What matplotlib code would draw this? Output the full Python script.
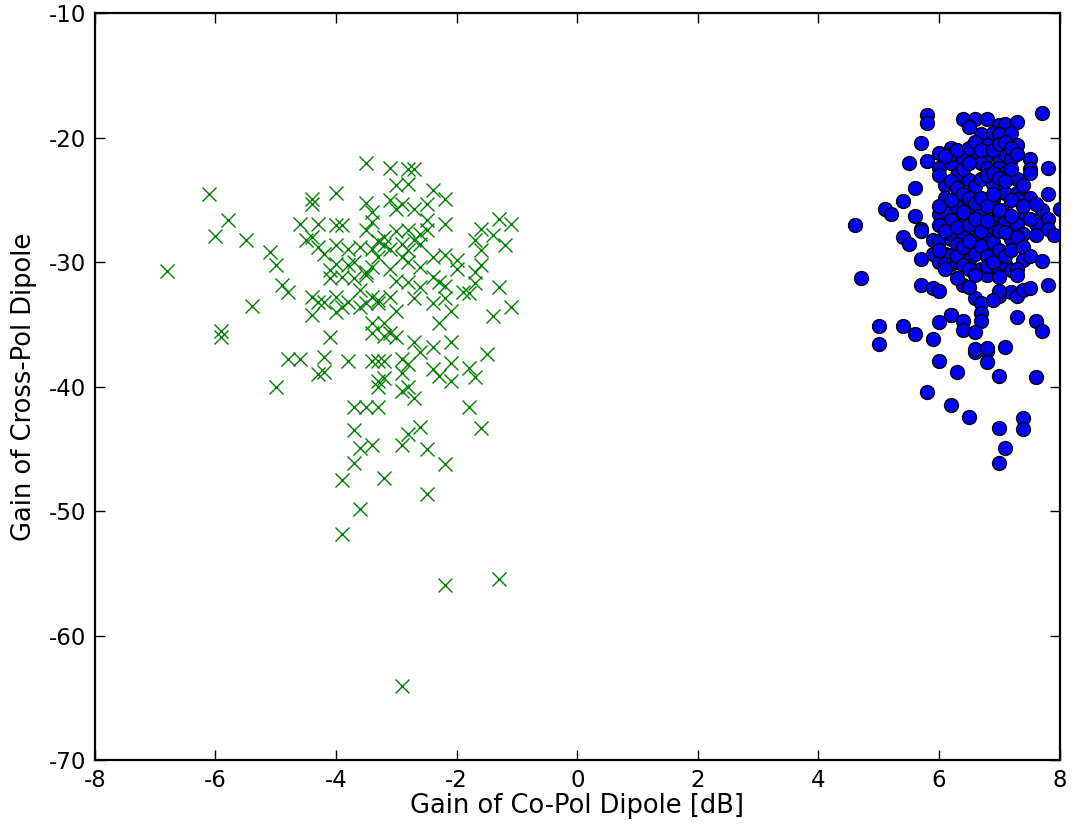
"""Co-pol vs cross-pol dipole gain scatter."""

import matplotlib
matplotlib.use("Agg")
import matplotlib.pyplot as plt

plt.rcParams["axes.unicode_minus"] = False
plt.rcParams["font.family"] = "DejaVu Sans"

# green crosses: (co-pol gain [dB], cross-pol gain [dB])
cross_pts = [
    (-6.8, -30.7), (-6.1, -24.5), (-6.0, -27.9), (-5.8, -26.6), (-5.9, -35.5),
    (-5.9, -36.0), (-5.5, -28.2), (-5.4, -33.5), (-5.1, -29.2), (-5.0, -30.2),
    (-5.0, -40.0), (-4.9, -31.8), (-4.8, -32.4), (-4.8, -37.8), (-4.6, -37.8),
    (-4.4, -24.9), (-4.4, -25.3), (-4.0, -24.4), (-4.6, -26.9), (-4.3, -26.9),
    (-4.5, -28.2), (-4.4, -28.0), (-4.3, -28.8), (-4.2, -29.3), (-4.4, -32.8),
    (-4.4, -34.2), (-4.2, -33.2), (-4.1, -30.6), (-4.1, -36.0), (-4.2, -37.6),
    (-4.3, -39.0), (-4.2, -38.8), (-3.8, -37.9), (-3.4, -37.9), (-3.3, -37.9),
    (-3.2, -37.9), (-2.9, -37.8), (-2.8, -38.2), (-2.9, -38.9), (-2.4, -38.6),
    (-2.3, -39.1), (-2.1, -38.1), (-2.1, -39.5), (-1.8, -38.5), (-1.7, -39.2),
    (-1.5, -37.4), (-2.4, -36.8), (-2.1, -36.4), (-2.7, -36.4), (-2.6, -37.2),
    (-3.3, -39.5), (-3.2, -39.3), (-3.3, -40.0), (-2.9, -40.3), (-2.8, -40.0),
    (-2.7, -40.9), (-3.7, -41.6), (-3.5, -41.6), (-3.3, -41.6), (-1.8, -41.6),
    (-3.7, -43.5), (-1.6, -43.3), (-2.8, -43.8), (-2.6, -43.2), (-3.6, -44.9),
    (-3.4, -44.7), (-2.9, -44.7), (-2.5, -45.0), (-3.7, -46.1), (-2.2, -46.2),
    (-3.9, -47.5), (-3.2, -47.3), (-2.5, -48.6), (-3.9, -51.8), (-3.6, -49.8),
    (-2.2, -55.9), (-1.3, -55.4), (-2.9, -64.0),
    (-3.4, -35.7), (-3.2, -35.9), (-3.1, -35.7), (-3.0, -36.0), (-2.3, -34.9),
    (-3.4, -34.9),
    (-3.5, -22.0), (-3.1, -22.4), (-2.8, -22.5), (-2.7, -22.5), (-3.0, -23.8),
    (-2.8, -23.7), (-2.4, -24.2), (-2.2, -24.9), (-3.5, -25.2), (-3.1, -25.0),
    (-2.9, -25.3), (-3.0, -25.7), (-2.5, -25.3), (-2.7, -25.7), (-3.4, -26.0),
    (-3.9, -27.0), (-4.0, -27.0), (-3.4, -26.8), (-3.5, -27.4), (-2.5, -26.6),
    (-2.2, -26.9), (-1.3, -26.5), (-1.1, -26.9), (-1.6, -27.3), (-1.4, -27.8),
    (-1.2, -28.6), (-1.7, -28.2), (-3.2, -28.0), (-2.8, -27.4), (-2.6, -27.7),
    (-3.2, -28.6), (-3.1, -28.9), (-2.8, -29.0), (-2.6, -28.5), (-2.5, -27.4),
    (-4.0, -28.6), (-3.8, -28.9), (-3.6, -28.8), (-3.4, -28.9), (-3.3, -29.6),
    (-2.9, -29.6), (-2.8, -30.0), (-2.4, -29.6), (-2.2, -29.4), (-2.0, -29.8),
    (-1.6, -29.0), (-1.6, -30.2), (-4.0, -30.1), (-3.8, -30.2), (-3.5, -30.8),
    (-3.4, -30.4), (-2.6, -30.4), (-2.0, -30.5), (-1.7, -30.8), (-4.1, -31.3),
    (-3.9, -31.2), (-3.7, -31.3), (-3.5, -31.0), (-2.8, -31.6), (-2.6, -32.0),
    (-2.4, -31.2), (-2.3, -31.6), (-2.2, -31.9), (-1.9, -32.4), (-1.8, -32.5),
    (-1.7, -31.7), (-1.3, -32.0), (-4.0, -32.8), (-3.9, -33.6), (-3.6, -33.6),
    (-3.4, -32.8), (-3.3, -33.3), (-3.1, -32.8), (-3.0, -33.9), (-2.7, -32.9),
    (-2.4, -33.3), (-2.2, -32.9), (-2.1, -33.9), (-1.4, -34.3), (-1.1, -33.6),
    (-3.2, -34.9), (-3.3, -33.0), (-3.5, -33.3), (-3.6, -32.2), (-3.0, -31.5),
    (-3.1, -30.5), (-2.9, -28.5), (-3.3, -28.3), (-3.0, -27.5), (-2.7, -28.2),
    (-3.7, -30.0), (-3.8, -33.2), (-4.3, -33.2), (-4.0, -34.0),
]

# blue circles
circle_pts = [
    (5.8, -18.2), (5.8, -18.8), (5.7, -20.4), (6.0, -21.2), (6.2, -20.8),
    (5.8, -21.9), (5.5, -22.0), (6.0, -22.4), (6.2, -22.0), (5.6, -24.0),
    (6.1, -23.8), (5.4, -25.1), (6.1, -24.8), (5.1, -25.7), (5.2, -26.1),
    (5.6, -26.3), (6.0, -26.1), (6.1, -25.8), (4.6, -27.0), (5.7, -27.3),
    (4.7, -31.3), (5.0, -35.1), (5.0, -36.6), (5.4, -35.1), (5.6, -35.8),
    (5.4, -28.0), (5.5, -28.5), (5.7, -27.5), (5.9, -28.2), (6.0, -28.3),
    (6.2, -28.1), (5.9, -29.3), (5.7, -29.7), (6.0, -30.0), (6.1, -29.3),
    (6.2, -30.1), (5.7, -31.8), (5.9, -32.1), (6.0, -32.3), (6.2, -34.2),
    (6.0, -34.8), (5.9, -36.2),
    (6.0, -37.9), (6.3, -38.8), (6.6, -37.2), (6.8, -37.1), (6.8, -38.0),
    (7.1, -36.8), (7.0, -39.1), (7.6, -39.2), (5.8, -40.4), (6.2, -41.5),
    (6.5, -42.4), (7.0, -43.3), (7.4, -42.5), (7.4, -43.4), (7.1, -44.9),
    (7.0, -46.1),
    (7.7, -18.0), (6.4, -18.5), (6.6, -18.5), (6.8, -18.5), (6.5, -19.1),
    (7.0, -19.0), (7.1, -18.9), (7.3, -18.7), (6.7, -19.7), (6.9, -19.6),
    (7.0, -19.7), (7.2, -19.6), (7.3, -20.6), (6.8, -20.6), (6.2, -21.3),
    (6.4, -21.2), (6.6, -21.7), (6.8, -21.4), (7.0, -21.7), (7.1, -21.3),
    (7.2, -21.7), (7.5, -21.7), (7.8, -22.4), (6.4, -21.7), (6.7, -22.0),
    (6.8, -22.4), (7.0, -22.4), (7.5, -22.5), (7.5, -22.8), (7.1, -22.8),
    (7.3, -23.3), (6.3, -23.0), (6.5, -23.4), (6.6, -23.9), (6.7, -23.3),
    (6.9, -23.7), (7.1, -24.4), (7.3, -24.4), (7.5, -24.8), (7.8, -24.5),
    (6.3, -25.6), (6.5, -25.7), (6.7, -26.0), (6.9, -25.0), (6.9, -25.6),
    (7.1, -25.8), (7.3, -24.9), (7.4, -26.4), (7.7, -25.8), (7.8, -26.5),
    (8.0, -25.7), (6.2, -26.6), (6.4, -26.9), (6.7, -26.9), (6.9, -26.8),
    (7.1, -26.8), (7.3, -26.9), (7.6, -26.9),
    (6.2, -27.7), (6.4, -27.7), (6.6, -28.1), (6.8, -27.8), (6.9, -27.2),
    (7.2, -28.1), (7.4, -27.7), (7.6, -27.8), (7.8, -27.3), (7.9, -27.8),
    (6.2, -29.4), (6.5, -29.8), (6.7, -30.5), (6.9, -29.2), (6.8, -31.0),
    (7.0, -30.9), (7.1, -30.1), (7.2, -30.6), (7.4, -29.8), (7.7, -29.9),
    (6.1, -30.1), (6.3, -30.0), (6.4, -31.8), (6.6, -32.9), (6.7, -33.3),
    (6.7, -34.1), (6.7, -34.7), (7.0, -32.7), (7.2, -32.4), (7.3, -32.7),
    (7.4, -32.2), (7.5, -32.1), (7.8, -31.8), (6.2, -34.2), (6.4, -34.7),
    (6.4, -35.4), (6.6, -35.6), (7.3, -34.4), (7.6, -34.7), (7.7, -35.5),
    (6.6, -37.0), (6.8, -36.9),
    (6.0, -23.0), (6.0, -25.5), (6.0, -27.0), (6.0, -29.0), (6.1, -21.5),
    (6.1, -27.5), (6.1, -30.5), (6.2, -23.5), (6.2, -25.0), (6.3, -21.0),
    (6.3, -24.0), (6.3, -27.2), (6.3, -28.5), (6.3, -29.5), (6.4, -22.5),
    (6.4, -24.5), (6.4, -26.0), (6.4, -28.8), (6.4, -30.2), (6.5, -20.8),
    (6.5, -22.0), (6.5, -24.8), (6.5, -27.0), (6.5, -28.3), (6.5, -30.5),
    (6.6, -20.3), (6.6, -25.2), (6.6, -26.5), (6.6, -29.3), (6.6, -31.0),
    (6.7, -21.0), (6.7, -24.8), (6.7, -27.5), (6.7, -28.7), (6.8, -23.0),
    (6.8, -25.5), (6.8, -26.7), (6.8, -29.5), (6.8, -30.3), (6.9, -21.0),
    (6.9, -22.8), (6.9, -24.5), (6.9, -28.4), (6.9, -30.0), (7.0, -20.5),
    (7.0, -23.2), (7.0, -25.8), (7.0, -27.5), (7.0, -29.0), (7.0, -31.2),
    (7.1, -20.3), (7.1, -23.5), (7.1, -27.6), (7.1, -29.5), (7.2, -20.8),
    (7.2, -22.5), (7.2, -25.0), (7.2, -26.3), (7.2, -29.0), (7.3, -21.3),
    (7.3, -28.0), (7.3, -30.5), (7.4, -23.8), (7.4, -25.5), (7.4, -28.8),
    (7.5, -26.5), (7.5, -29.5), (7.6, -25.3), (7.3, -31.0), (7.0, -32.3),
    (6.9, -33.0), (6.5, -32.0), (6.3, -31.3),
]

x_ticks = [-8, -6, -4, -2, 0, 2, 4, 6, 8]
y_ticks = [-70, -60, -50, -40, -30, -20, -10]


fig = plt.figure(figsize=(10.78, 8.30), dpi=100)
ax = fig.add_axes([0.088, 0.084, 0.895, 0.900])

cx = [p[0] for p in cross_pts]
cy = [p[1] for p in cross_pts]
ax.plot(cx, cy, "x", color=(0, 0.5, 0), markersize=10, markeredgewidth=1.0)

bx = [p[0] for p in circle_pts]
by = [p[1] for p in circle_pts]
ax.plot(bx, by, "o", markerfacecolor=(0, 0, 1), markeredgecolor="black",
        markersize=10, markeredgewidth=1.0)

ax.set_xlim(-8, 8)
ax.set_ylim(-70, -10)
ax.set_xticks(x_ticks)
ax.set_yticks(y_ticks)
ax.tick_params(direction="in", top=True, right=True, length=7, width=1,
               labelsize=16.5, pad=6)
for s in ax.spines.values():
    s.set_linewidth(1.6)
ax.set_xlabel("Gain of Co-Pol Dipole [dB]", fontsize=18.5, labelpad=1)
ax.set_ylabel("Gain of Cross-Pol Dipole", fontsize=18.5, labelpad=9)

fig.savefig("out.png", dpi=100)
